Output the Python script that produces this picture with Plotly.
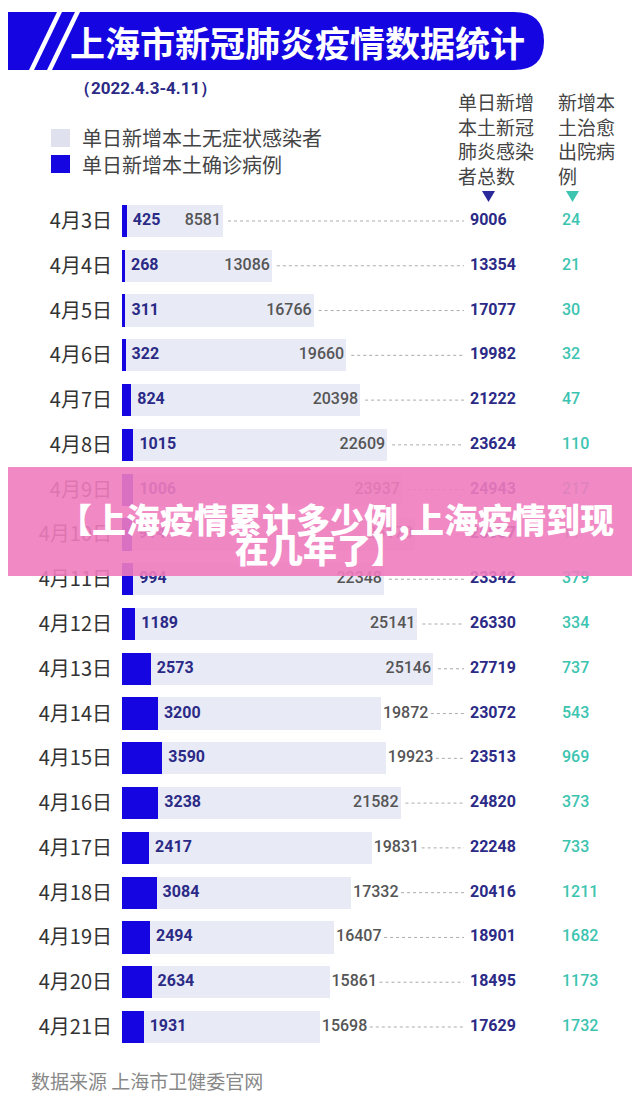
import plotly.graph_objects as go

# data
dates = ["4月3日", "4月4日", "4月5日", "4月6日", "4月7日", "4月8日", "4月9日", "4月10日",
         "4月11日", "4月12日", "4月13日", "4月14日", "4月15日", "4月16日", "4月17日",
         "4月18日", "4月19日", "4月20日", "4月21日"]
confirmed = [425, 268, 311, 322, 824, 1015, 1006, 914, 994, 1189, 2573, 3200, 3590,
             3238, 2417, 3084, 2494, 2634, 1931]
asymptomatic = [8581, 13086, 16766, 19660, 20398, 22609, 23937, 25173, 22348, 25141,
                25146, 19872, 19923, 21582, 19831, 17332, 16407, 15861, 15698]
total = [9006, 13354, 17077, 19982, 21222, 23624, 24943, 26087, 23342, 26330, 27719,
         23072, 23513, 24820, 22248, 20416, 18901, 18495, 17629]
cured = [24, 21, 30, 32, 47, 110, 217, 11, 379, 334, 737, 543, 969, 373, 733, 1211,
         1682, 1173, 1732]
# rows whose asymptomatic label sits just outside the bar
label_outside = ["4月14日", "4月15日", "4月17日", "4月18日", "4月19日", "4月20日", "4月21日"]

W, H = 640, 1100
OFF = 8   # page body margin
XMAX = 44560
PLOT_L, PLOT_R = 122, 622
S = (PLOT_R - PLOT_L) / XMAX   # px per unit


def u(p):
    # pixel distance -> data units
    return p / S


def px(x):
    return (x - OFF) / W


def py(y):
    return 1 - (y - OFF) / H


BLUE = "#1505e0"
LIGHT = "#e8eaf6"
NAVY = "#2b2a86"
TEAL = "#3cc4b0"
NUMFONT = "Roboto, sans-serif"
CJK = "Noto Sans CJK SC"

fig = go.Figure()
fig.add_bar(y=dates, x=confirmed, orientation="h", marker_color=BLUE, marker_line_width=0)
fig.add_bar(y=dates, x=asymptomatic, orientation="h", marker_color=LIGHT, marker_line_width=0)

sums = [c + a for c, a in zip(confirmed, asymptomatic)]

# confirmed labels
fig.add_scatter(y=dates, x=[c + u(6) for c in confirmed], mode="text",
                text=[str(c) for c in confirmed], textposition="middle right",
                textfont=dict(family=NUMFONT, size=16, color=NAVY, weight="bold"))

# asymptomatic labels
asy_x, asy_pos = [], []
for d, s in zip(dates, sums):
    if d in label_outside:
        asy_x.append(s + u(2))
        asy_pos.append("middle right")
    else:
        asy_x.append(s - u(2))
        asy_pos.append("middle left")
fig.add_scatter(y=dates, x=asy_x, mode="text", text=[str(a) for a in asymptomatic],
                textposition=asy_pos,
                textfont=dict(family=NUMFONT, size=16, color="#555555", weight=500))

# total and cured columns
fig.add_scatter(y=dates, x=[u(470 - PLOT_L)] * len(dates), mode="text",
                text=[str(t) for t in total], textposition="middle right",
                textfont=dict(family=NUMFONT, size=16, color=NAVY, weight="bold"))
fig.add_scatter(y=dates, x=[u(562 - PLOT_L)] * len(dates), mode="text",
                text=[str(c) for c in cured], textposition="middle right",
                textfont=dict(family=NUMFONT, size=16, color=TEAL, weight=500))

shapes = []
# dotted leader lines
for d, s in zip(dates, sums):
    x0 = s + u(50) if d in label_outside else s + u(5)
    shapes.append(dict(type="line", xref="x", yref="y", x0=x0, x1=u(464 - PLOT_L),
                       y0=d, y1=d, line=dict(color="#aaaaaa", width=1, dash="dot"),
                       layer="below"))

# title banner
shapes.append(dict(type="path", xref="paper", yref="paper", fillcolor=BLUE, line_width=0,
                   path=f"M {px(0)} {py(12)} L {px(514)} {py(12)} "
                        f"Q {px(544)} {py(12)} {px(544)} {py(41)} "
                        f"Q {px(544)} {py(70)} {px(514)} {py(70)} "
                        f"L {px(0)} {py(70)} Z"))
for top, bot in [(57, 29), (75, 47)]:
    shapes.append(dict(type="path", xref="paper", yref="paper", fillcolor="white", line_width=0,
                       path=f"M {px(top)} {py(12)} L {px(top + 5)} {py(12)} "
                            f"L {px(bot + 5)} {py(70)} L {px(bot)} {py(70)} Z"))

# legend squares
shapes.append(dict(type="rect", xref="paper", yref="paper", x0=px(51), x1=px(70),
                   y0=py(129), y1=py(147), fillcolor="#dfe1ee", line_width=0))
shapes.append(dict(type="rect", xref="paper", yref="paper", x0=px(51), x1=px(70),
                   y0=py(155), y1=py(173), fillcolor=BLUE, line_width=0))

# header triangles
shapes.append(dict(type="path", xref="paper", yref="paper", fillcolor="#2a2a9a", line_width=0,
                   path=f"M {px(482)} {py(191)} L {px(495)} {py(191)} L {px(488.5)} {py(202)} Z"))
shapes.append(dict(type="path", xref="paper", yref="paper", fillcolor=TEAL, line_width=0,
                   path=f"M {px(566)} {py(191)} L {px(579)} {py(191)} L {px(572.5)} {py(202)} Z"))

# pink overlay band
shapes.append(dict(type="rect", xref="paper", yref="paper", x0=0, x1=1,
                   y0=py(576), y1=py(467), fillcolor="rgba(240,124,190,0.9)",
                   line_width=0, layer="above"))

annotations = [
    dict(text="上海市新冠肺炎疫情数据统计", x=px(297), y=py(42), xanchor="center", yanchor="middle",
         font=dict(family=CJK, size=35, color="white", weight="bold")),
    dict(text="（2022.4.3-4.11）", x=px(72), y=py(88), xanchor="left", yanchor="middle",
         font=dict(family=NUMFONT, size=17, color=NAVY, weight="bold")),
    dict(text="单日新增本土无症状感染者", x=px(80), y=py(138), xanchor="left", yanchor="middle",
         font=dict(family=CJK, size=20, color="#444444")),
    dict(text="单日新增本土确诊病例", x=px(80), y=py(164), xanchor="left", yanchor="middle",
         font=dict(family=CJK, size=20, color="#444444")),
    dict(text="单日新增<br>本土新冠<br>肺炎感染<br>者总数", x=px(456), y=py(86), xanchor="left",
         yanchor="top", align="left", font=dict(family=CJK, size=19, color="#444444")),
    dict(text="新增本<br>土治愈<br>出院病<br>例", x=px(556), y=py(86), xanchor="left",
         yanchor="top", align="left", font=dict(family=CJK, size=19, color="#444444")),
    dict(text="【上海疫情累计多少例,上海疫情到现", x=px(336), y=py(518), xanchor="center",
         yanchor="middle", font=dict(family=CJK, size=34, color="white", weight=900)),
    dict(text="在几年了】", x=px(320), y=py(548), xanchor="center", yanchor="middle",
         font=dict(family=CJK, size=34, color="white", weight=900)),
    dict(text="数据来源 上海市卫健委官网", x=px(29), y=py(1080), xanchor="left", yanchor="middle",
         font=dict(family=CJK, size=19, color="#888888")),
]
for a in annotations:
    a.update(xref="paper", yref="paper", showarrow=False)

fig.update_layout(
    width=W, height=H,
    margin=dict(l=0, r=0, t=0, b=0),
    paper_bgcolor="white", plot_bgcolor="white",
    barmode="stack", bargap=0.28, showlegend=False,
    shapes=shapes, annotations=annotations,
    xaxis=dict(domain=[px(PLOT_L), px(PLOT_R)], range=[0, XMAX], visible=False, fixedrange=True),
    yaxis=dict(domain=[py(1049.4), py(198.6)], type="category", range=[18.5, -0.5],
               showgrid=False, zeroline=False, showline=False,
               ticks="outside", ticklen=5, tickcolor="rgba(0,0,0,0)",
               tickfont=dict(family=CJK, size=20, color="#333333")),
)

fig.write_html("out.html")
